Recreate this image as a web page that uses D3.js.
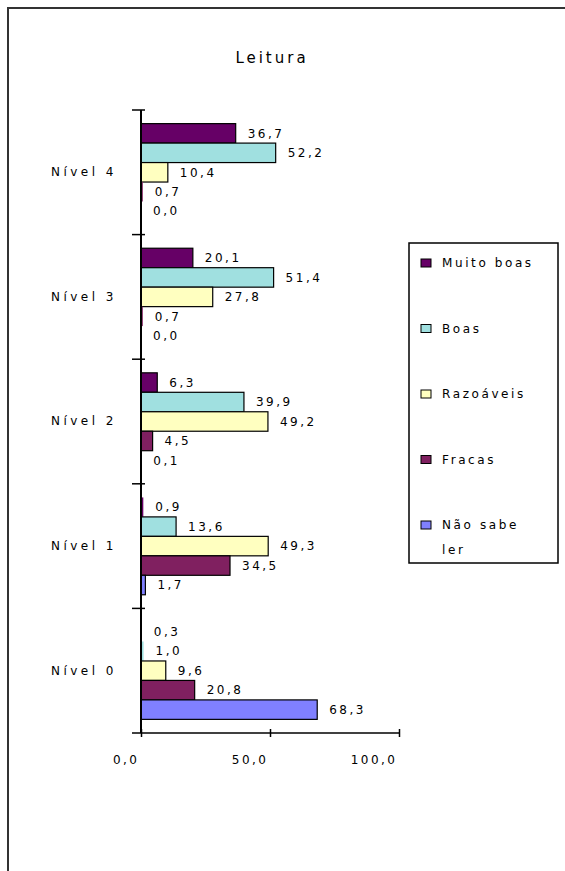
<!DOCTYPE html>
<html>
<head>
<meta charset="utf-8">
<script src="https://cdn.jsdelivr.net/npm/d3@7"></script>
<style>
  html, body { margin: 0; padding: 0; background: #fff; }
  svg { display: block; }
  text { font-family: "DejaVu Sans", sans-serif; fill: #000; }
</style>
</head>
<body>
<svg id="chart" width="565" height="871"></svg>
<script>
// Reading proficiency by level (percent)
const categories = ["Nível 4", "Nível 3", "Nível 2", "Nível 1", "Nível 0"];
const seriesNames = ["Muito boas", "Boas", "Razoáveis", "Fracas", "Não sabe ler"];
const seriesColors = ["#660066", "#a0e0e0", "#ffffc0", "#802060", "#8080ff"];
// values[series][category], categories in the order above
const muitoBoas  = [36.7, 20.1, 6.3, 0.9, 0.3];
const boas       = [52.2, 51.4, 39.9, 13.6, 1.0];
const razoaveis  = [10.4, 27.8, 49.2, 49.3, 9.6];
const fracas     = [0.7, 0.7, 4.5, 34.5, 20.8];
const naoSabeLer = [0.0, 0.0, 0.1, 1.7, 68.3];
const xTicks = [0, 50, 100];
const title = "Leitura";

const values = [muitoBoas, boas, razoaveis, fracas, naoSabeLer];
const fmt = v => v.toFixed(1).replace(".", ",");

const svg = d3.select("#chart");

// outer frame
svg.append("rect")
  .attr("x", 8).attr("y", 8)
  .attr("width", 700).attr("height", 1000)
  .attr("fill", "none").attr("stroke", "#333").attr("stroke-width", 2);

svg.append("text")
  .attr("x", 272).attr("y", 63)
  .attr("text-anchor", "middle")
  .attr("font-size", 15)
  .attr("letter-spacing", 3)
  .text(title);

const x = d3.scaleLinear().domain([0, 100]).range([141, 399]);
const y = d3.scaleBand().domain(categories).range([110, 733]).padding(0);
const ySeries = d3.scaleBand().domain(seriesNames).range([0, y.bandwidth()])
  .paddingInner(0).paddingOuter(0.7);

const rows = [];
categories.forEach((c, ci) => {
  seriesNames.forEach((s, si) => {
    rows.push({ cat: c, series: s, si, value: values[si][ci] });
  });
});

const g = svg.append("g");

g.selectAll("rect.bar").data(rows).join("rect")
  .attr("class", "bar")
  .attr("x", x(0))
  .attr("y", d => y(d.cat) + ySeries(d.series))
  .attr("width", d => x(d.value) - x(0))
  .attr("height", ySeries.bandwidth())
  .attr("fill", d => seriesColors[d.si])
  .attr("stroke", d => x(d.value) - x(0) > 3 ? "#000" : "none")
  .attr("stroke-width", 1.2);

g.selectAll("text.val").data(rows).join("text")
  .attr("class", "val")
  .attr("x", d => x(d.value) + 12)
  .attr("y", d => y(d.cat) + ySeries(d.series) + ySeries.bandwidth() / 2)
  .attr("dy", "0.35em")
  .attr("font-size", 12)
  .attr("letter-spacing", 2.5)
  .text(d => fmt(d.value));

// vertical category axis
const yAxis = d3.axisLeft(y).tickSize(0).tickPadding(0);
const ya = svg.append("g").attr("transform", `translate(${x(0)},0)`).call(yAxis);
ya.select(".domain").remove();
ya.selectAll("text")
  .attr("x", 117 - x(0))
  .attr("font-size", 12)
  .attr("letter-spacing", 3.5)
  .attr("font-family", "DejaVu Sans, sans-serif")
  .attr("fill", "#000");

const yBounds = categories.map(c => y(c));
svg.append("line")
  .attr("x1", x(0)).attr("x2", x(0))
  .attr("y1", y.range()[0]).attr("y2", y.range()[1])
  .attr("stroke", "#000").attr("stroke-width", 2);
svg.selectAll("line.ytick").data(yBounds).join("line")
  .attr("class", "ytick")
  .attr("x1", x(0) - 9).attr("x2", x(0) + 4)
  .attr("y1", d => d).attr("y2", d => d)
  .attr("stroke", "#000").attr("stroke-width", 1.5);

// horizontal value axis
const xAxis = d3.axisBottom(x).tickValues(xTicks).tickSize(4).tickPadding(18)
  .tickFormat(d => fmt(d));
const xa = svg.append("g").attr("transform", `translate(0,${y.range()[1]})`).call(xAxis);
xa.select(".domain").remove();
xa.selectAll(".tick line").attr("y1", -4).attr("y2", 4)
  .attr("stroke", "#000").attr("stroke-width", 1.5);
xa.selectAll(".tick text")
  .attr("text-anchor", "end")
  .attr("dx", -2)
  .attr("font-size", 12)
  .attr("letter-spacing", 2.5)
  .attr("font-family", "DejaVu Sans, sans-serif")
  .attr("fill", "#000");
svg.append("line")
  .attr("x1", x(0) - 9).attr("x2", x(100) + 1)
  .attr("y1", y.range()[1]).attr("y2", y.range()[1])
  .attr("stroke", "#000").attr("stroke-width", 1.5);

// legend
const legend = svg.append("g");
legend.append("rect")
  .attr("x", 409).attr("y", 243).attr("width", 149).attr("height", 320)
  .attr("fill", "#fff").attr("stroke", "#000").attr("stroke-width", 1.5);
const legY = d3.scalePoint().domain(seriesNames).range([263, 525]);
const items = legend.selectAll("g.item").data(seriesNames).join("g")
  .attr("class", "item")
  .attr("transform", d => `translate(0,${legY(d)})`);
items.append("rect")
  .attr("x", 421).attr("y", -4).attr("width", 10).attr("height", 8)
  .attr("fill", (d, i) => seriesColors[i]).attr("stroke", "#000");
items.append("text")
  .attr("x", 442)
  .attr("font-size", 12)
  .attr("letter-spacing", 2.6)
  .each(function(d) {
    const words = d === "Não sabe ler" ? ["Não sabe", "ler"] : [d];
    const t = d3.select(this);
    words.forEach((w, k) => {
      t.append("tspan").attr("x", 442).attr("dy", k === 0 ? "0.35em" : 25).text(w);
    });
  });
</script>
</body>
</html>
